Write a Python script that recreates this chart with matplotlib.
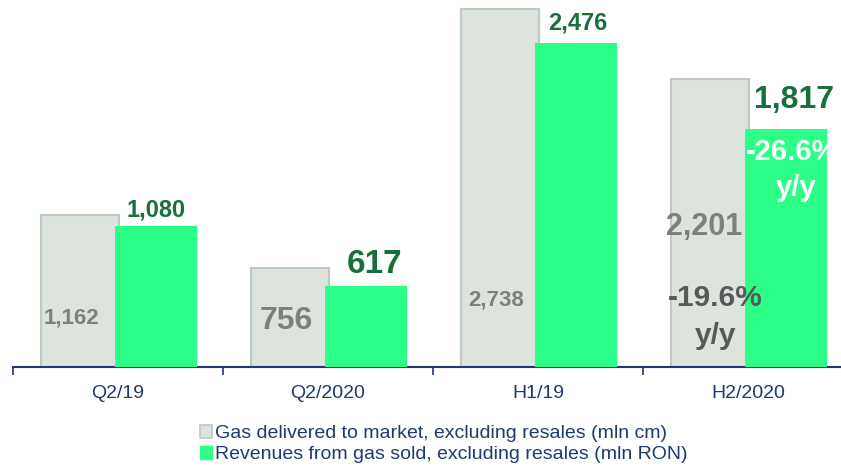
import matplotlib.pyplot as plt
from matplotlib.patches import Patch

categories = ['Q2/19', 'Q2/2020', 'H1/19', 'H2/2020']
gas_delivered = [1162, 756, 2738, 2201]
revenues = [1080, 617, 2476, 1817]
legend_labels = ['Gas delivered to market, excluding resales (mln cm)',
                 'Revenues from gas sold, excluding resales (mln RON)']

gray_fill = '#DDE3DD'
gray_edge = '#BFCABF'
green = '#2BFF88'
dark_green = '#17703A'
navy = '#1F3A70'
label_gray = '#7F7F7F'

plt.rcParams['font.family'] = ['Liberation Sans', 'DejaVu Sans']

fig = plt.figure(figsize=(8.41, 4.69), dpi=100)
ax = fig.add_axes([13 / 841, 102 / 469, 840 / 841, 367 / 469])

x = list(range(len(categories)))
off = 0.181
gbars = ax.bar([i - off for i in x], gas_delivered, width=0.37, color=gray_fill,
               edgecolor=gray_edge, linewidth=1.5, zorder=2)
rbars = ax.bar([i + off for i in x], revenues, width=0.39, color=green, zorder=3)

ax.set_xlim(-0.5, 3.5)
ax.set_ylim(0, 2804)
ax.set_yticks([])
for s in ['top', 'right', 'left']:
    ax.spines[s].set_visible(False)
ax.spines['bottom'].set_color(navy)
ax.spines['bottom'].set_linewidth(1.5)
ax.set_xticks([i - 0.5 for i in x] + [3.5], minor=False)
ax.set_xticklabels([])
ax.tick_params(axis='x', direction='out', length=6, color=navy, width=1.2)
for i, c in enumerate(categories):
    ax.text(i, -26 / 367 * 2804, c, ha='center', va='center', fontsize=14, color=navy)

# value labels: gray series (inside bar)
g_sizes = [16, 23, 16, 22]
g_x = [-0.22, -0.20, -0.20, -0.21]
g_y = [49, 46, 67, 140]  # px above baseline
for i, v in enumerate(gas_delivered):
    ax.text(i + g_x[i], g_y[i] / 367 * 2804, f'{v:,}', ha='center', va='center',
            fontsize=g_sizes[i], fontweight='bold', color=label_gray, zorder=5)

# value labels: green series (above bar)
r_sizes = [17, 24, 17, 23]
r_x = [0.18, 0.22, 0.19, 0.22]
r_dy = [16, 22, 20, 29]
for i, v in enumerate(revenues):
    ax.text(i + r_x[i], v + r_dy[i] / 367 * 2804, f'{v:,}', ha='center', va='center',
            fontsize=r_sizes[i], fontweight='bold', color=dark_green, zorder=5)

# y/y annotations
ax.text(2.845, 69 / 367 * 2804, '-19.6%', ha='center', va='center', fontsize=21.5,
        fontweight='bold', color='#595959', zorder=5)
ax.text(2.845, 31 / 367 * 2804, 'y/y', ha='center', va='center', fontsize=21.5,
        fontweight='bold', color='#595959', zorder=5)
t1 = ax.text(3.21, 215 / 367 * 2804, '-26.6%', ha='center', va='center', fontsize=21,
             fontweight='bold', color='white', zorder=5)
t1.set_clip_path(rbars[3])
ax.text(3.23, 179 / 367 * 2804, 'y/y', ha='center', va='center', fontsize=21,
        fontweight='bold', color='white', zorder=5)

handles = [Patch(facecolor=gray_fill, edgecolor=gray_edge, linewidth=1.2),
           Patch(facecolor=green, edgecolor=green)]
fig.legend(handles, legend_labels, loc='upper left', bbox_to_anchor=(190 / 841, 1 - 415 / 469),
           frameon=False, fontsize=14, handlelength=0.65, handleheight=0.65,
           handletextpad=0.15, labelspacing=0.2, borderpad=0, labelcolor=navy)

fig.savefig('out.png', dpi=100)
